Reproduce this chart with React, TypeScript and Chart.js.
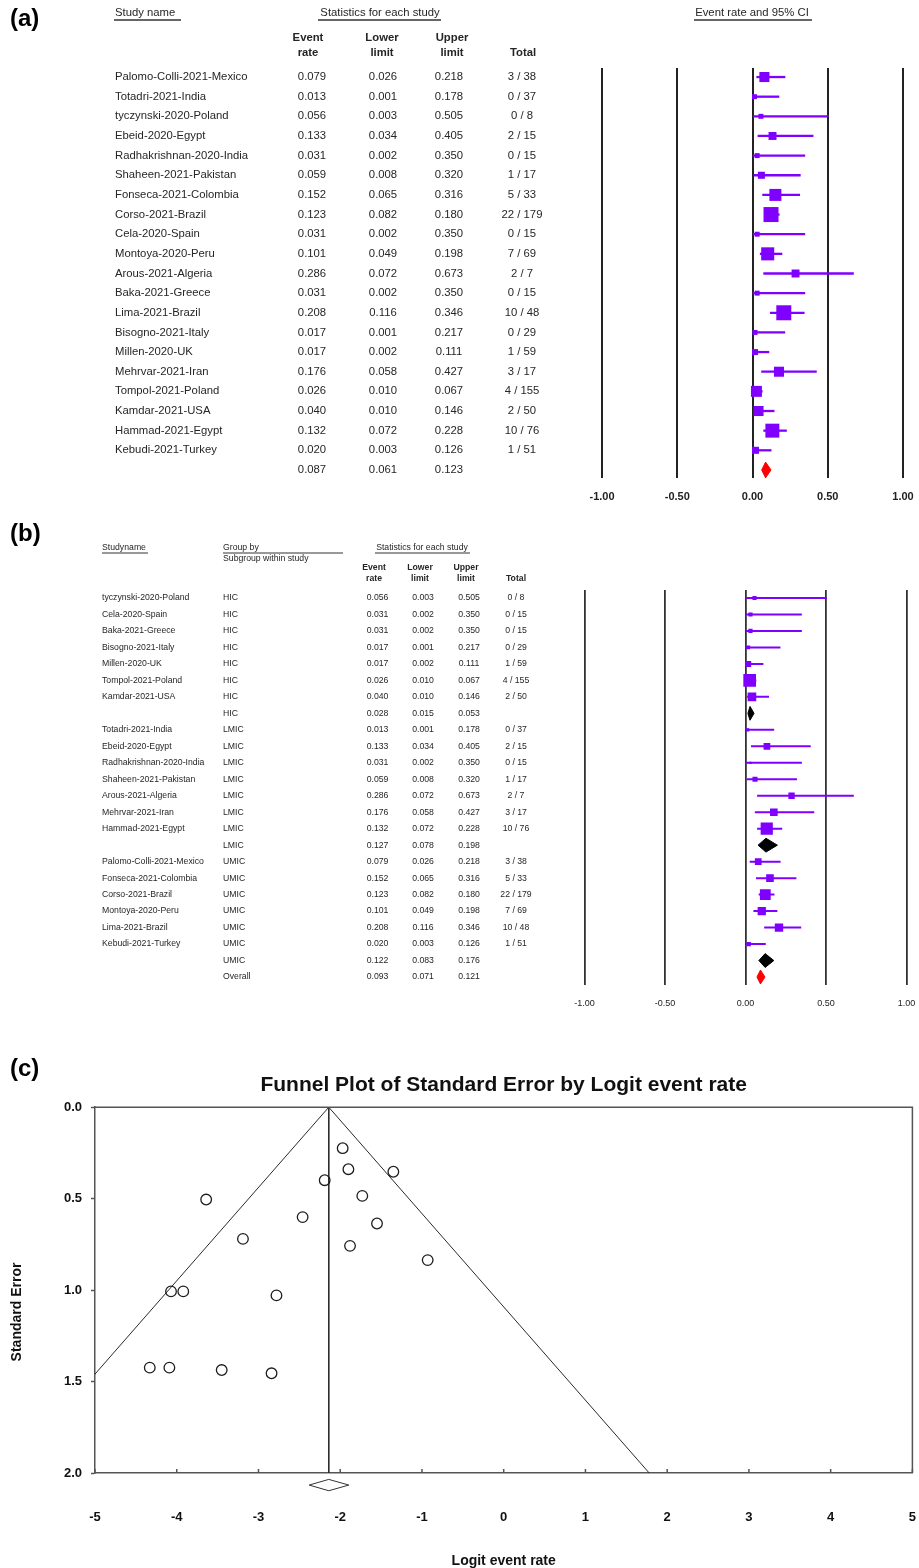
import React, { useEffect, useRef } from 'react';
import { Chart, registerables } from 'chart.js';

Chart.register(...registerables);

const FONT = '"Liberation Sans", Arial, Helvetica, sans-serif';
Chart.defaults.font.family = FONT;

const PURPLE = '#7f00ff';
const TEXT = '#262626';

// ---------------- Panel (a) data ----------------
const studyNamesA = [
  'Palomo-Colli-2021-Mexico', 'Totadri-2021-India', 'tyczynski-2020-Poland', 'Ebeid-2020-Egypt',
  'Radhakrishnan-2020-India', 'Shaheen-2021-Pakistan', 'Fonseca-2021-Colombia', 'Corso-2021-Brazil',
  'Cela-2020-Spain', 'Montoya-2020-Peru', 'Arous-2021-Algeria', 'Baka-2021-Greece',
  'Lima-2021-Brazil', 'Bisogno-2021-Italy', 'Millen-2020-UK', 'Mehrvar-2021-Iran',
  'Tompol-2021-Poland', 'Kamdar-2021-USA', 'Hammad-2021-Egypt', 'Kebudi-2021-Turkey',
];
const eventRateA = [0.079, 0.013, 0.056, 0.133, 0.031, 0.059, 0.152, 0.123, 0.031, 0.101, 0.286, 0.031, 0.208, 0.017, 0.017, 0.176, 0.026, 0.040, 0.132, 0.020];
const lowerLimitA = [0.026, 0.001, 0.003, 0.034, 0.002, 0.008, 0.065, 0.082, 0.002, 0.049, 0.072, 0.002, 0.116, 0.001, 0.002, 0.058, 0.010, 0.010, 0.072, 0.003];
const upperLimitA = [0.218, 0.178, 0.505, 0.405, 0.350, 0.320, 0.316, 0.180, 0.350, 0.198, 0.673, 0.350, 0.346, 0.217, 0.111, 0.427, 0.067, 0.146, 0.228, 0.126];
const totalsA = ['3 / 38', '0 / 37', '0 / 8', '2 / 15', '0 / 15', '1 / 17', '5 / 33', '22 / 179', '0 / 15', '7 / 69', '2 / 7', '0 / 15', '10 / 48', '0 / 29', '1 / 59', '3 / 17', '4 / 155', '2 / 50', '10 / 76', '1 / 51'];
const boxWeightA = [0.67, 0.33, 0.33, 0.53, 0.33, 0.47, 0.8, 1.0, 0.33, 0.87, 0.53, 0.33, 1.0, 0.33, 0.4, 0.67, 0.73, 0.67, 0.93, 0.47];
const pooledA = [0.087, 0.061, 0.123]; // rate, lower, upper

// ---------------- Panel (b) data ----------------
const studyNamesB = [
  'tyczynski-2020-Poland', 'Cela-2020-Spain', 'Baka-2021-Greece', 'Bisogno-2021-Italy', 'Millen-2020-UK',
  'Tompol-2021-Poland', 'Kamdar-2021-USA', '',
  'Totadri-2021-India', 'Ebeid-2020-Egypt', 'Radhakrishnan-2020-India', 'Shaheen-2021-Pakistan',
  'Arous-2021-Algeria', 'Mehrvar-2021-Iran', 'Hammad-2021-Egypt', '',
  'Palomo-Colli-2021-Mexico', 'Fonseca-2021-Colombia', 'Corso-2021-Brazil', 'Montoya-2020-Peru',
  'Lima-2021-Brazil', 'Kebudi-2021-Turkey', '', '',
];
const groupB = [
  'HIC', 'HIC', 'HIC', 'HIC', 'HIC', 'HIC', 'HIC', 'HIC',
  'LMIC', 'LMIC', 'LMIC', 'LMIC', 'LMIC', 'LMIC', 'LMIC', 'LMIC',
  'UMIC', 'UMIC', 'UMIC', 'UMIC', 'UMIC', 'UMIC', 'UMIC', 'Overall',
];
const eventRateB = [0.056, 0.031, 0.031, 0.017, 0.017, 0.026, 0.040, 0.028, 0.013, 0.133, 0.031, 0.059, 0.286, 0.176, 0.132, 0.127, 0.079, 0.152, 0.123, 0.101, 0.208, 0.020, 0.122, 0.093];
const lowerLimitB = [0.003, 0.002, 0.002, 0.001, 0.002, 0.010, 0.010, 0.015, 0.001, 0.034, 0.002, 0.008, 0.072, 0.058, 0.072, 0.078, 0.026, 0.065, 0.082, 0.049, 0.116, 0.003, 0.083, 0.071];
const upperLimitB = [0.505, 0.350, 0.350, 0.217, 0.111, 0.067, 0.146, 0.053, 0.178, 0.405, 0.350, 0.320, 0.673, 0.427, 0.228, 0.198, 0.218, 0.316, 0.180, 0.198, 0.346, 0.126, 0.176, 0.121];
const totalsB = ['0 / 8', '0 / 15', '0 / 15', '0 / 29', '1 / 59', '4 / 155', '2 / 50', '', '0 / 37', '2 / 15', '0 / 15', '1 / 17', '2 / 7', '3 / 17', '10 / 76', '', '3 / 38', '5 / 33', '22 / 179', '7 / 69', '10 / 48', '1 / 51', '', ''];
const boxWeightB = [0.33, 0.33, 0.33, 0.3, 0.47, 1.0, 0.68, 0, 0.26, 0.53, 0.18, 0.4, 0.5, 0.6, 0.96, 0, 0.53, 0.6, 0.85, 0.65, 0.66, 0.34, 0, 0];

const forestTicks = [-1, -0.5, 0, 0.5, 1];

// ---------------- Panel (c) data ----------------
const funnelLogit = [-1.97, -1.90, -1.35, -2.19, -1.73, -3.64, -2.46, -1.55, -3.19, -1.88, -0.93, -4.07, -3.92, -2.78, -4.33, -4.09, -3.45, -2.84];
const funnelSE = [0.224, 0.339, 0.353, 0.399, 0.485, 0.505, 0.601, 0.636, 0.72, 0.758, 0.836, 1.007, 1.007, 1.029, 1.424, 1.424, 1.437, 1.455];
const pooledLogit = [-2.14, -2.38, -1.895]; // point, lower, upper
const funnelTicksX = [-5, -4, -3, -2, -1, 0, 1, 2, 3, 4, 5];
const funnelTicksY = [0, 0.5, 1, 1.5, 2];

// ---------------- helpers ----------------
function txt(ctx: CanvasRenderingContext2D, s: string, x: number, y: number, font: string, align: CanvasTextAlign = 'left', color = TEXT) {
  ctx.font = font;
  ctx.textAlign = align;
  ctx.fillStyle = color;
  ctx.fillText(s, x, y);
}
function uline(ctx: CanvasRenderingContext2D, x1: number, x2: number, y: number) {
  ctx.beginPath();
  ctx.moveTo(x1, y);
  ctx.lineTo(x2, y);
  ctx.stroke();
}

type Study = { row: number; est: number; lo: number; hi: number; side: number };
type Dia = { row: number; est: number; lo: number; hi: number; color: string };

function forestConfig(p: {
  studies: Study[]; diamonds: Dia[]; yMin: number; yMax: number; leftW: number; rightW: number;
  bottomH: number; topPad: number; tickLen: number; tickFont: any; gridW: number; gridColor: string;
  ciW: number; diamondHalf: number; plugin: any;
}): any {
  const ciSets = p.studies.map((s) => ({
    data: [{ x: s.lo, y: s.row }, { x: s.hi, y: s.row }],
    showLine: true, pointRadius: 0, borderColor: PURPLE, borderWidth: p.ciW, order: 2,
  }));
  const boxSet = {
    data: p.studies.map((s) => ({ x: s.est, y: s.row })),
    pointStyle: 'rect',
    pointRadius: p.studies.map((s) => s.side / Math.SQRT2),
    backgroundColor: PURPLE, borderWidth: 0, order: 1,
  };
  const diaSets = p.diamonds.map((d) => ({
    data: [
      { x: d.lo, y: d.row }, { x: d.est, y: d.row - p.diamondHalf }, { x: d.hi, y: d.row },
      { x: d.est, y: d.row + p.diamondHalf }, { x: d.lo, y: d.row },
    ],
    showLine: true, fill: 'shape', backgroundColor: d.color, borderColor: d.color, borderWidth: 1,
    pointRadius: 0, order: 0,
  }));
  return {
    type: 'scatter',
    data: { datasets: [...diaSets, boxSet, ...ciSets] },
    options: {
      responsive: false, animation: false, events: [],
      layout: { padding: { top: p.topPad, left: 0, right: 0, bottom: 0 } },
      plugins: { legend: { display: false }, tooltip: { enabled: false }, title: { display: false } },
      scales: {
        x: {
          type: 'linear', position: 'bottom', min: -1, max: 1,
          afterBuildTicks: (s: any) => { s.ticks = forestTicks.map((value) => ({ value })); },
          ticks: { callback: (v: any) => Number(v).toFixed(2), font: p.tickFont, color: '#222', padding: 0, maxRotation: 0, autoSkip: false },
          grid: { color: p.gridColor, lineWidth: p.gridW, drawTicks: true, tickLength: p.tickLen, tickColor: 'rgba(0,0,0,0)' },
          border: { display: false },
          afterFit: (s: any) => { s.height = p.bottomH; },
        },
        y: {
          type: 'linear', position: 'left', reverse: true, min: p.yMin, max: p.yMax,
          ticks: { display: false }, grid: { display: false }, border: { display: false },
          afterFit: (s: any) => { s.width = p.leftW; },
        },
        yR: {
          type: 'linear', position: 'right',
          ticks: { display: false }, grid: { display: false }, border: { display: false },
          afterFit: (s: any) => { s.width = p.rightW; },
        },
      },
    },
    plugins: [p.plugin],
  };
}

// ---------------- Panel (a) ----------------
function configA(): any {
  const studies: Study[] = studyNamesA.map((_, i) => ({
    row: i, est: eventRateA[i], lo: lowerLimitA[i], hi: upperLimitA[i], side: 15 * boxWeightA[i],
  }));
  const diamonds: Dia[] = [{ row: studyNamesA.length, est: pooledA[0], lo: pooledA[1], hi: pooledA[2], color: '#ff0000' }];
  const plugin = {
    id: 'tableA',
    afterDraw(chart: any) {
      const ctx: CanvasRenderingContext2D = chart.ctx;
      const ys = chart.scales.y;
      ctx.save();
      ctx.textBaseline = 'middle';
      txt(ctx, '(a)', 10, 19, `bold 24px ${FONT}`, 'left', '#000');
      const f = `11.3px ${FONT}`;
      const fb = `bold 11.3px ${FONT}`;
      txt(ctx, 'Study name', 115, 12.5, f);
      txt(ctx, 'Statistics for each study', 380, 12.5, f, 'center');
      txt(ctx, 'Event rate and 95% CI', 752, 12.5, f, 'center');
      ctx.strokeStyle = '#333';
      ctx.lineWidth = 1.3;
      uline(ctx, 114, 181, 20);
      uline(ctx, 318, 441, 20);
      uline(ctx, 694, 812, 20);
      txt(ctx, 'Event', 308, 38, fb, 'center');
      txt(ctx, 'rate', 308, 53, fb, 'center');
      txt(ctx, 'Lower', 382, 38, fb, 'center');
      txt(ctx, 'limit', 382, 53, fb, 'center');
      txt(ctx, 'Upper', 452, 38, fb, 'center');
      txt(ctx, 'limit', 452, 53, fb, 'center');
      txt(ctx, 'Total', 523, 53, fb, 'center');
      studyNamesA.forEach((n, i) => {
        const y = ys.getPixelForValue(i);
        txt(ctx, n, 115, y, f);
        txt(ctx, eventRateA[i].toFixed(3), 312, y, f, 'center');
        txt(ctx, lowerLimitA[i].toFixed(3), 383, y, f, 'center');
        txt(ctx, upperLimitA[i].toFixed(3), 449, y, f, 'center');
        txt(ctx, totalsA[i], 522, y, f, 'center');
      });
      const yp = ys.getPixelForValue(studyNamesA.length);
      txt(ctx, pooledA[0].toFixed(3), 312, yp, f, 'center');
      txt(ctx, pooledA[1].toFixed(3), 383, yp, f, 'center');
      txt(ctx, pooledA[2].toFixed(3), 449, yp, f, 'center');
      ctx.restore();
    },
  };
  return forestConfig({
    studies, diamonds, yMin: -0.46, yMax: 20.41, leftW: 602, rightW: 16, bottomH: 42, topPad: 68,
    tickLen: 12, tickFont: { family: FONT, size: 11, weight: 'bold' }, gridW: 2, gridColor: '#222',
    ciW: 2.3, diamondHalf: 0.4, plugin,
  });
}

// ---------------- Panel (b) ----------------
function configB(): any {
  const studies: Study[] = [];
  const diamonds: Dia[] = [];
  studyNamesB.forEach((n, i) => {
    if (n) {
      studies.push({ row: i, est: eventRateB[i], lo: lowerLimitB[i], hi: upperLimitB[i], side: 12.7 * boxWeightB[i] });
    } else {
      diamonds.push({ row: i, est: eventRateB[i], lo: lowerLimitB[i], hi: upperLimitB[i], color: groupB[i] === 'Overall' ? '#ff0000' : '#000000' });
    }
  });
  const plugin = {
    id: 'tableB',
    afterDraw(chart: any) {
      const ctx: CanvasRenderingContext2D = chart.ctx;
      const ys = chart.scales.y;
      ctx.save();
      ctx.textBaseline = 'middle';
      txt(ctx, '(b)', 10, 14, `bold 24px ${FONT}`, 'left', '#000');
      const f = `8.7px ${FONT}`;
      const fb = `bold 8.7px ${FONT}`;
      txt(ctx, 'Studyname', 102, 28, f);
      txt(ctx, 'Group by', 223, 28, f);
      txt(ctx, 'Subgroup within study', 223, 39, f);
      txt(ctx, 'Statistics for each study', 422, 28, f, 'center');
      ctx.strokeStyle = '#333';
      ctx.lineWidth = 1;
      uline(ctx, 102, 148, 33);
      uline(ctx, 223, 343, 33);
      uline(ctx, 375, 470, 33);
      txt(ctx, 'Event', 374, 48, fb, 'center');
      txt(ctx, 'rate', 374, 59, fb, 'center');
      txt(ctx, 'Lower', 420, 48, fb, 'center');
      txt(ctx, 'limit', 420, 59, fb, 'center');
      txt(ctx, 'Upper', 466, 48, fb, 'center');
      txt(ctx, 'limit', 466, 59, fb, 'center');
      txt(ctx, 'Total', 516, 59, fb, 'center');
      studyNamesB.forEach((n, i) => {
        const y = ys.getPixelForValue(i);
        if (n) txt(ctx, n, 102, y, f);
        txt(ctx, groupB[i], 223, y, f);
        txt(ctx, eventRateB[i].toFixed(3), 377.5, y, f, 'center');
        txt(ctx, lowerLimitB[i].toFixed(3), 423, y, f, 'center');
        txt(ctx, upperLimitB[i].toFixed(3), 469, y, f, 'center');
        if (totalsB[i]) txt(ctx, totalsB[i], 516, y, f, 'center');
      });
      ctx.restore();
    },
  };
  return forestConfig({
    studies, diamonds, yMin: -0.485, yMax: 23.485, leftW: 584.5, rightW: 12.5, bottomH: 55, topPad: 70,
    tickLen: 13, tickFont: { family: FONT, size: 9 }, gridW: 1.8, gridColor: '#333',
    ciW: 2, diamondHalf: 0.42, plugin,
  });
}

// ---------------- Panel (c) ----------------
function configC(): any {
  const [c, cLo, cHi] = pooledLogit;
  const seMax = funnelTicksY[funnelTicksY.length - 1];
  const DIA_Y = 2.066;
  const DIA_H = 0.031;
  const plugin = {
    id: 'funnelDeco',
    afterDraw(chart: any) {
      const ctx: CanvasRenderingContext2D = chart.ctx;
      const ca = chart.chartArea;
      const xs = chart.scales.x;
      ctx.save();
      ctx.strokeStyle = '#555';
      ctx.lineWidth = 1.5;
      ctx.beginPath();
      ctx.moveTo(ca.left, ca.top);
      ctx.lineTo(ca.right, ca.top);
      ctx.lineTo(ca.right, ca.bottom);
      ctx.stroke();
      ctx.beginPath();
      xs.ticks.forEach((t: any) => {
        const px = xs.getPixelForValue(t.value);
        ctx.moveTo(px, ca.bottom);
        ctx.lineTo(px, ca.bottom - 4);
      });
      ctx.stroke();
      ctx.textBaseline = 'middle';
      txt(ctx, '(c)', 10, 29, `bold 24px ${FONT}`, 'left', '#000');
      ctx.translate(17, 272);
      ctx.rotate(-Math.PI / 2);
      txt(ctx, 'Standard Error', 0, 0, `bold 14px ${FONT}`, 'center', '#111');
      ctx.restore();
    },
  };
  return {
    type: 'scatter',
    data: {
      datasets: [
        {
          data: funnelLogit.map((x, i) => ({ x, y: funnelSE[i] })),
          pointStyle: 'circle', pointRadius: 5.3, borderColor: '#1e1e1e', borderWidth: 1.3,
          backgroundColor: 'rgba(0,0,0,0)', order: 0,
        },
        {
          data: [{ x: c - 1.96 * seMax, y: seMax }, { x: c, y: 0 }, { x: c + 1.96 * seMax, y: seMax }],
          showLine: true, pointRadius: 0, borderColor: '#2a2a2a', borderWidth: 1, order: 2,
        },
        {
          data: [{ x: c, y: 0 }, { x: c, y: seMax }],
          showLine: true, pointRadius: 0, borderColor: '#2a2a2a', borderWidth: 1, order: 2,
        },
        {
          data: [
            { x: cLo, y: DIA_Y }, { x: c, y: DIA_Y - DIA_H }, { x: cHi, y: DIA_Y },
            { x: c, y: DIA_Y + DIA_H }, { x: cLo, y: DIA_Y },
          ],
          showLine: true, fill: 'shape', backgroundColor: '#ffffff', borderColor: '#333', borderWidth: 1,
          pointRadius: 0, clip: false, order: 1,
        },
      ],
    },
    options: {
      responsive: false, animation: false, events: [],
      layout: { padding: { top: 0, left: 0, right: 0, bottom: 0 } },
      plugins: {
        legend: { display: false }, tooltip: { enabled: false },
        title: {
          display: true, text: 'Funnel Plot of Standard Error by Logit event rate',
          font: { family: FONT, size: 21, weight: 'bold' }, color: '#111',
          padding: { top: 33, bottom: 9 }, fullSize: false,
        },
      },
      scales: {
        x: {
          type: 'linear', position: 'bottom', min: -5, max: 5,
          afterBuildTicks: (s: any) => { s.ticks = funnelTicksX.map((value) => ({ value })); },
          ticks: { callback: (v: any) => String(v), font: { family: FONT, size: 13, weight: 'bold' }, color: '#111', padding: 0, maxRotation: 0, autoSkip: false },
          grid: { display: true, drawOnChartArea: false, drawTicks: true, tickLength: 37, tickColor: 'rgba(0,0,0,0)' },
          border: { display: true, color: '#555', width: 1.5 },
          title: { display: true, text: 'Logit event rate', font: { family: FONT, size: 14, weight: 'bold' }, color: '#111', padding: 0 },
          afterFit: (s: any) => { s.height = 97; },
        },
        y: {
          type: 'linear', position: 'left', reverse: true, min: 0, max: 2,
          afterBuildTicks: (s: any) => { s.ticks = funnelTicksY.map((value) => ({ value })); },
          ticks: { callback: (v: any) => Number(v).toFixed(1), font: { family: FONT, size: 13, weight: 'bold' }, color: '#111', padding: 9 },
          grid: { display: true, drawOnChartArea: false, drawTicks: true, tickLength: 4, tickColor: '#555', tickWidth: 1.5 },
          border: { display: true, color: '#555', width: 1.5 },
          afterFit: (s: any) => { s.width = 95; },
        },
        yR: {
          type: 'linear', position: 'right',
          ticks: { display: false }, grid: { display: false }, border: { display: false },
          afterFit: (s: any) => { s.width = 5; },
        },
      },
    },
    plugins: [plugin],
  };
}

export default function App() {
  const refA = useRef<HTMLCanvasElement>(null);
  const refB = useRef<HTMLCanvasElement>(null);
  const refC = useRef<HTMLCanvasElement>(null);
  useEffect(() => {
    const a = new Chart(refA.current as HTMLCanvasElement, configA());
    const b = new Chart(refB.current as HTMLCanvasElement, configB());
    const c = new Chart(refC.current as HTMLCanvasElement, configC());
    return () => {
      a.destroy();
      b.destroy();
      c.destroy();
    };
  }, []);
  return (
    <div style={{ position: 'absolute', left: 0, top: 0, width: 919, height: 1568, background: '#fff', overflow: 'hidden' }}>
      <canvas ref={refA} width={919} height={520} style={{ position: 'absolute', left: 0, top: 0, display: 'block' }} />
      <canvas ref={refB} width={919} height={520} style={{ position: 'absolute', left: 0, top: 520, display: 'block' }} />
      <canvas ref={refC} width={919} height={530} style={{ position: 'absolute', left: 0, top: 1040, display: 'block' }} />
    </div>
  );
}
